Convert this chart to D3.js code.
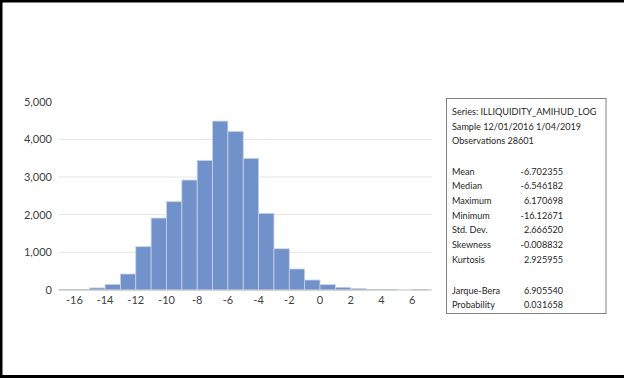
<!DOCTYPE html>
<html>
<head>
<meta charset="utf-8">
<script src="https://cdn.jsdelivr.net/npm/d3@7"></script>
<style>
  body { margin: 0; background: #fff; }
  svg { display: block; font-family: Lato, "Open Sans", sans-serif; }
</style>
</head>
<body>
<div class="main"></div>
<script>
//// Data
const binStarts = [-17, -16, -15, -14, -13, -12, -11, -10, -9, -8, -7, -6, -5, -4, -3, -2, -1, 0, 1, 2, 3, 4, 5, 6];
const counts = [15, 15, 55, 150, 425, 1150, 1910, 2345, 2920, 3440, 4485, 4210, 3495, 2035, 1095, 558, 265, 142, 71, 40, 18, 18, 0, 18];
const xTicks = [-16, -14, -12, -10, -8, -6, -4, -2, 0, 2, 4, 6];
const yTicks = [0, 1000, 2000, 3000, 4000, 5000];
const statHeader = ['Series: ILLIQUIDITY_AMIHUD_LOG', 'Sample 12/01/2016 1/04/2019', 'Observations 28601'];
const statNames = ['Mean', 'Median', 'Maximum', 'Minimum', 'Std. Dev.', 'Skewness', 'Kurtosis'];
const statValues = ['-6.702355', '-6.546182', '6.170698', '-16.12671', '2.666520', '-0.008832', '2.925955'];
const testNames = ['Jarque-Bera', 'Probability'];
const testValues = ['6.905540', '0.031658'];

////Globals
const width = 624;
const height = 378;
const svg = d3.select('.main').append('svg')
  .attr('width', width)
  .attr('height', height);

// frame (top, left, bottom only)
svg.append('path')
  .attr('d', `M624,1 H1 V376.5 H624`)
  .attr('fill', 'none')
  .attr('stroke', '#000')
  .attr('stroke-width', 3);

const x = d3.scaleLinear().domain([-17, 7]).range([59, 427.5]);
const y = d3.scaleLinear().domain([0, 5000]).range([290, 101.7]);

// gridlines
svg.append('g')
  .selectAll('line')
  .data(yTicks.filter(t => t > 0 && t < 5000))
  .enter()
  .append('line')
  .attr('x1', 59)
  .attr('x2', 432)
  .attr('y1', d => y(d))
  .attr('y2', d => y(d))
  .attr('stroke', '#e4e4e4')
  .attr('stroke-width', 1);

// bars
svg.append('g')
  .selectAll('rect')
  .data(binStarts)
  .enter()
  .append('rect')
  .attr('x', d => x(d))
  .attr('width', d => x(d + 1) - x(d))
  .attr('y', (d, i) => y(counts[i]))
  .attr('height', (d, i) => y(0) - y(counts[i]))
  .attr('fill', '#7191cb')
  .attr('stroke', (d, i) => counts[i] > 0 ? '#c9d3e6' : 'none')
  .attr('stroke-width', 0.8);

// baseline
svg.append('line')
  .attr('x1', 59).attr('x2', 432)
  .attr('y1', y(0)).attr('y2', y(0))
  .attr('stroke', '#bfbfbf');

// y labels
svg.append('g')
  .selectAll('text')
  .data(yTicks)
  .enter()
  .append('text')
  .attr('x', 52)
  .attr('y', d => y(d) + 4)
  .attr('text-anchor', 'end')
  .attr('font-size', 11)
  .attr('fill', '#404040')
  .text(d => d3.format(',')(d));

// x labels
svg.append('g')
  .selectAll('text')
  .data(xTicks)
  .enter()
  .append('text')
  .attr('x', d => x(d))
  .attr('y', 304)
  .attr('text-anchor', 'middle')
  .attr('font-size', 11)
  .attr('fill', '#404040')
  .text(d => d);

// stats box
const box = svg.append('g');
box.append('rect')
  .attr('x', 446.5).attr('y', 98.5)
  .attr('width', 159.5).attr('height', 215)
  .attr('fill', '#fff')
  .attr('stroke', '#7f7f7f')
  .attr('stroke-width', 1);

const lineH = 14.7;
const tx = 452;
const vx = 563;
const fs = 9.1;

box.selectAll('.hdr')
  .data(statHeader)
  .enter()
  .append('text')
  .attr('x', tx)
  .attr('y', (d, i) => 115 + i * 14.7)
  .attr('font-size', fs)
  .attr('fill', '#262626')
  .text(d => d);

statNames.forEach((n, i) => {
  const yy = 174.5 + i * lineH;
  box.append('text').attr('x', tx).attr('y', yy)
    .attr('font-size', fs).attr('fill', '#262626').text(n);
  box.append('text').attr('x', vx).attr('y', yy)
    .attr('text-anchor', 'end')
    .attr('font-size', fs).attr('fill', '#262626').text(statValues[i]);
});

testNames.forEach((n, i) => {
  const yy = 293.5 + i * lineH;
  box.append('text').attr('x', tx).attr('y', yy)
    .attr('font-size', fs).attr('fill', '#262626').text(n);
  box.append('text').attr('x', vx).attr('y', yy)
    .attr('text-anchor', 'end')
    .attr('font-size', fs).attr('fill', '#262626').text(testValues[i]);
});
</script>
</body>
</html>
